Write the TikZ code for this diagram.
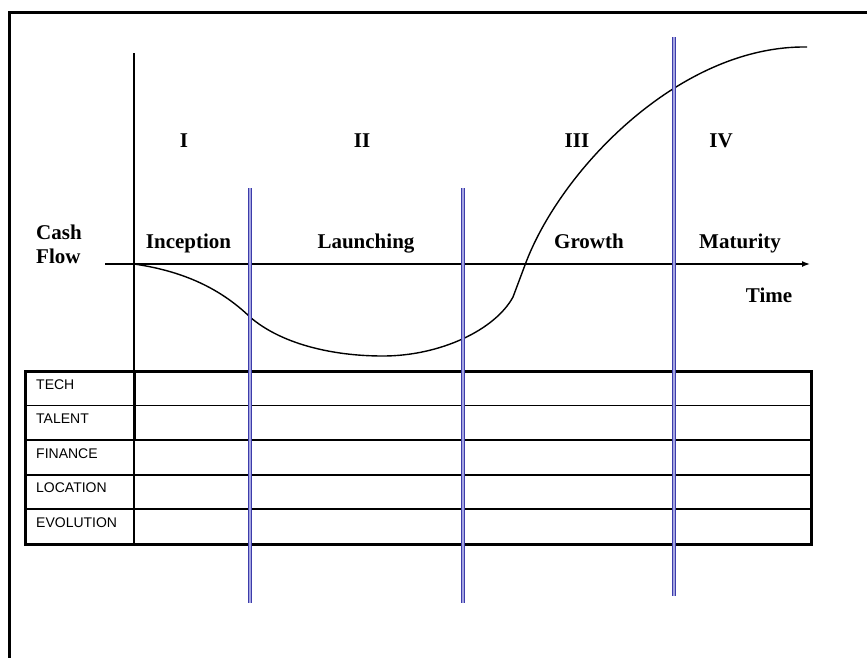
\documentclass[tikz,border=0pt]{standalone}
\usepackage{fontspec}
\setmainfont{Liberation Serif}
\newfontfamily\tablefont{Liberation Sans}
\usetikzlibrary{arrows.meta}
\definecolor{PhaseBlue}{RGB}{60,60,170}
\definecolor{PhaseGap}{RGB}{165,165,225}

\begin{document}
\begin{tikzpicture}[x=1pt, y=-1pt, >={Latex[length=8pt,width=6pt]}]
    \tikzstyle{stage}=[font=\bfseries\fontsize{21}{24}\selectfont, inner sep=0pt, anchor=base]
    \tikzstyle{rowlabel}=[font=\tablefont\fontsize{14}{16}\selectfont, inner sep=0pt, anchor=base west]
    \tikzstyle{divider}=[draw=PhaseBlue, double=PhaseGap, double distance=1.2pt, line width=1pt]
    \useasboundingbox (0,0) rectangle (867,657);

    % frame
    \draw[line width=3pt] (9,660) -- (9,12) -- (870,12);

    % axes
    \coordinate (origin) at (134,264);
    \coordinate (ytop) at (134,53);
    \coordinate (ybot) at (134,371);
    \coordinate (xstart) at (105,264);
    \coordinate (xend) at (810,264);
    \draw[line width=1.4pt] (ytop) -- (ybot);
    \draw[->, line width=1.4pt] (xstart) -- (xend);

    % cash flow curve
    \draw[line width=1.4pt] (origin) .. controls (190,272) and (225,293) .. (250,317)
        .. controls (280,343) and (330,356) .. (383,356)
        .. controls (440,356) and (495,330) .. (513,297)
        -- (525,265) .. controls (560,170) and (680,45) .. (807,47);

    % labels
    \node[stage, anchor=north west, align=left] (cash) at (36,225) {Cash\\Flow};
    \foreach \xr/\r/\xs/\s in {184/I/188.5/Inception, 362/II/366/Launching, 577/III/589/Growth, 721/IV/740/Maturity} {
        \node[stage] (num\r) at (\xr,147) {\r};
        \node[stage] (name\r) at (\xs,248) {\s};
    }
    \node[stage] (time) at (769,302) {Time};

    % table
    \draw[line width=3pt] (25,371) rectangle (811,544);
    \foreach \y in {405.5,440,475,509}
        \draw[line width=1.6pt] (25,\y) -- (811,\y);
    \draw[line width=3pt] (ybot) -- (134,440);
    \draw[line width=1.6pt] (134,440) -- (134,544);
    \foreach \lab [count=\i from 0] in {TECH,TALENT,FINANCE,LOCATION,EVOLUTION}
        \node[rowlabel] (row\i) at (36,{389+\i*34.6}) {\lab};

    % phase dividers
    \draw[divider] (250,188) -- (250,603);
    \draw[divider] (463,188) -- (463,603);
    \draw[divider] (674,37) -- (674,596);
\end{tikzpicture}
\end{document}
